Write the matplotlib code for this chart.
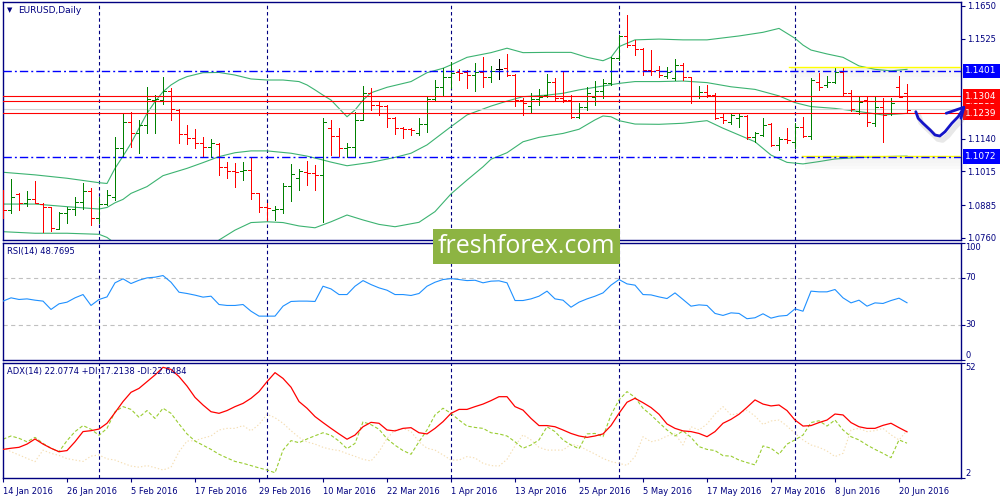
import numpy as np
import pandas as pd
import matplotlib
matplotlib.use("Agg")
import matplotlib.pyplot as plt
from matplotlib.patches import Rectangle
from matplotlib.transforms import blended_transform_factory

plt.rcParams['font.family'] = ['DejaVu Sans']
plt.rcParams['lines.scale_dashes'] = False

NAVY = '#000080'
UP = '#008000'
DOWN = '#ff0000'

# daily bars, EURUSD 14 Jan 2016 .. 21 Jun 2016
dates = pd.bdate_range('2016-01-14', periods=114)

open_ = [1.0906, 1.0867, 1.0927, 1.0893, 1.0908, 1.0890, 1.0877, 1.0793, 1.0854, 1.0872,
         1.0898, 1.0941, 1.0835, 1.0890, 1.0918, 1.1104, 1.1206, 1.1161, 1.1193, 1.1289,
         1.1289, 1.1325, 1.1251, 1.1158, 1.1142, 1.1126, 1.1110, 1.1120, 1.1033, 1.1017,
         1.1017, 1.1021, 1.0931, 1.0880, 1.0869, 1.0870, 1.0959, 1.0989, 1.1014, 1.1010,
         1.1001, 1.1181, 1.1151, 1.1104, 1.1110, 1.1213, 1.1315, 1.1270, 1.1268, 1.1219,
         1.1183, 1.1179, 1.1164, 1.1197, 1.1292, 1.1338, 1.1379, 1.1398, 1.1398, 1.1385,
         1.1398, 1.1376, 1.1407, 1.1411, 1.1385, 1.1289, 1.1266, 1.1292, 1.1308, 1.1360,
         1.1298, 1.1289, 1.1223, 1.1264, 1.1302, 1.1325, 1.1353, 1.1449, 1.1535, 1.1500,
         1.1484, 1.1404, 1.1404, 1.1381, 1.1372, 1.1424, 1.1376, 1.1305, 1.1321, 1.1308,
         1.1223, 1.1206, 1.1219, 1.1228, 1.1146, 1.1155, 1.1197, 1.1117, 1.1138, 1.1129,
         1.1187, 1.1151, 1.1360, 1.1347, 1.1360, 1.1398, 1.1315, 1.1248, 1.1289, 1.1200,
         1.1261, 1.1238, 1.1338, 1.1317]
high = [1.0944, 1.0986, 1.0931, 1.0940, 1.0978, 1.0893, 1.0880, 1.0859, 1.0880, 1.0918,
        1.0972, 1.0950, 1.0918, 1.0944, 1.1149, 1.1238, 1.1244, 1.1213, 1.1338, 1.1308,
        1.1376, 1.1334, 1.1253, 1.1193, 1.1178, 1.1149, 1.1138, 1.1123, 1.1053, 1.1046,
        1.1050, 1.1072, 1.0933, 1.0895, 1.0882, 1.0972, 1.1044, 1.1023, 1.1056, 1.1040,
        1.1219, 1.1213, 1.1181, 1.1123, 1.1244, 1.1343, 1.1334, 1.1283, 1.1270, 1.1223,
        1.1187, 1.1183, 1.1222, 1.1302, 1.1366, 1.1413, 1.1436, 1.1407, 1.1404, 1.1433,
        1.1453, 1.1420, 1.1445, 1.1466, 1.1389, 1.1296, 1.1315, 1.1330, 1.1388, 1.1372,
        1.1401, 1.1308, 1.1276, 1.1338, 1.1363, 1.1370, 1.1456, 1.1538, 1.1615, 1.1520,
        1.1488, 1.1481, 1.1421, 1.1417, 1.1445, 1.1430, 1.1379, 1.1343, 1.1347, 1.1315,
        1.1236, 1.1238, 1.1238, 1.1230, 1.1168, 1.1219, 1.1200, 1.1149, 1.1181, 1.1200,
        1.1225, 1.1372, 1.1392, 1.1381, 1.1411, 1.1417, 1.1328, 1.1302, 1.1302, 1.1302,
        1.1298, 1.1296, 1.1381, 1.1351]
low = [1.0835, 1.0854, 1.0867, 1.0882, 1.0893, 1.0781, 1.0788, 1.0793, 1.0818, 1.0848,
       1.0870, 1.0810, 1.0816, 1.0888, 1.0906, 1.1072, 1.1110, 1.1085, 1.1161, 1.1161,
       1.1273, 1.1213, 1.1123, 1.1120, 1.1104, 1.1072, 1.1072, 1.1002, 1.0989, 1.0957,
       1.0982, 1.0909, 1.0861, 1.0829, 1.0829, 1.0854, 1.0902, 1.0944, 1.0963, 1.0944,
       1.0822, 1.1078, 1.1075, 1.1072, 1.1072, 1.1213, 1.1251, 1.1232, 1.1187, 1.1159,
       1.1142, 1.1155, 1.1155, 1.1168, 1.1289, 1.1305, 1.1334, 1.1366, 1.1334, 1.1325,
       1.1338, 1.1360, 1.1370, 1.1383, 1.1268, 1.1232, 1.1245, 1.1270, 1.1302, 1.1289,
       1.1283, 1.1219, 1.1219, 1.1251, 1.1270, 1.1296, 1.1347, 1.1443, 1.1494, 1.1462,
       1.1385, 1.1385, 1.1376, 1.1372, 1.1366, 1.1366, 1.1279, 1.1296, 1.1302, 1.1215,
       1.1200, 1.1197, 1.1187, 1.1138, 1.1129, 1.1151, 1.1113, 1.1097, 1.1123, 1.1106,
       1.1149, 1.1138, 1.1328, 1.1338, 1.1353, 1.1305, 1.1248, 1.1236, 1.1190, 1.1190,
       1.1129, 1.1232, 1.1299, 1.1245]
close_ = [1.0867, 1.0918, 1.0893, 1.0908, 1.0895, 1.0877, 1.0797, 1.0854, 1.0872, 1.0898,
          1.0941, 1.0835, 1.0890, 1.0925, 1.1104, 1.1206, 1.1161, 1.1193, 1.1292, 1.1292,
          1.1325, 1.1255, 1.1158, 1.1142, 1.1126, 1.1110, 1.1126, 1.1033, 1.1017, 1.1014,
          1.1021, 1.0931, 1.0880, 1.0874, 1.0871, 1.0959, 1.1005, 1.1018, 1.1010, 1.1001,
          1.1206, 1.1151, 1.1104, 1.1110, 1.1213, 1.1315, 1.1270, 1.1268, 1.1219, 1.1181,
          1.1177, 1.1174, 1.1197, 1.1292, 1.1338, 1.1379, 1.1394, 1.1392, 1.1385, 1.1398,
          1.1376, 1.1402, 1.1407, 1.1385, 1.1289, 1.1276, 1.1292, 1.1302, 1.1360, 1.1296,
          1.1289, 1.1223, 1.1264, 1.1317, 1.1325, 1.1353, 1.1449, 1.1535, 1.1500, 1.1484,
          1.1404, 1.1402, 1.1385, 1.1398, 1.1424, 1.1379, 1.1305, 1.1321, 1.1308, 1.1219,
          1.1213, 1.1232, 1.1228, 1.1149, 1.1161, 1.1193, 1.1117, 1.1138, 1.1136, 1.1187,
          1.1151, 1.1366, 1.1338, 1.1360, 1.1398, 1.1315, 1.1255, 1.1283, 1.1206, 1.1261,
          1.1232, 1.1276, 1.1302, 1.1251]

# Bollinger bands (at these bars)
bb_up_idx = [0, 4, 8, 12, 13, 14, 15, 16, 17, 18, 19, 20, 21, 22, 23, 25, 27, 29, 31, 33,
             35, 37, 38, 39, 40, 41, 42, 43, 44, 45, 46, 48, 51, 53, 55, 56, 58, 61, 63, 65,
             68, 71, 73, 75, 76, 77, 79, 82, 85, 88, 92, 95, 97, 99, 100, 101, 103, 105, 107, 109,
             111, 113]
bb_up = [1.1012, 1.1002, 1.0989, 1.0972, 1.0969, 1.1027, 1.1074, 1.1123, 1.1181, 1.1238,
         1.1283, 1.1321, 1.1347, 1.1366, 1.1379, 1.1394, 1.1395, 1.1385, 1.1370, 1.1366,
         1.1366, 1.1360, 1.1347, 1.1328, 1.1308, 1.1289, 1.1257, 1.1225, 1.1251, 1.1289,
         1.1317, 1.1338, 1.1360, 1.1394, 1.1411, 1.1424, 1.1453, 1.1471, 1.1488, 1.1471,
         1.1472, 1.1472, 1.1453, 1.1440, 1.1453, 1.1494, 1.1520, 1.1523, 1.1520, 1.1520,
         1.1535, 1.1549, 1.1564, 1.1526, 1.1500, 1.1481, 1.1466, 1.1453, 1.1420, 1.1407,
         1.1401, 1.1407]
bb_mid_idx = [0, 4, 8, 12, 13, 14, 15, 16, 18, 20, 23, 25, 27, 29, 31, 33, 36, 38, 40, 41,
              43, 46, 49, 51, 53, 56, 58, 61, 63, 65, 68, 70, 72, 74, 77, 79, 82, 85, 88, 91,
              94, 97, 99, 101, 104, 107, 110, 113]
bb_mid = [1.0890, 1.0890, 1.0880, 1.0871, 1.0877, 1.0895, 1.0908, 1.0931, 1.0957, 1.0999,
          1.1027, 1.1049, 1.1072, 1.1087, 1.1094, 1.1094, 1.1085, 1.1074, 1.1059, 1.1051,
          1.1037, 1.1050, 1.1069, 1.1085, 1.1117, 1.1187, 1.1232, 1.1266, 1.1285, 1.1302,
          1.1308, 1.1315, 1.1328, 1.1338, 1.1353, 1.1360, 1.1360, 1.1362, 1.1356, 1.1340,
          1.1330, 1.1305, 1.1279, 1.1264, 1.1257, 1.1245, 1.1232, 1.1238]
bb_low_idx = [0, 4, 8, 12, 13, 14, 16, 20, 24, 26, 27, 29, 31, 33, 35, 37, 39, 41, 43, 45,
              47, 49, 52, 54, 56, 58, 60, 61, 63, 65, 67, 70, 72, 74, 75, 76, 77, 79, 82, 85,
              88, 90, 92, 94, 96, 98, 100, 102, 104, 107, 110, 113]
bb_low = [1.0784, 1.0778, 1.0778, 1.0774, 1.0762, 1.0739, 1.0701, 1.0663, 1.0675, 1.0720,
          1.0752, 1.0790, 1.0819, 1.0822, 1.0819, 1.0806, 1.0799, 1.0822, 1.0848, 1.0829,
          1.0812, 1.0803, 1.0820, 1.0861, 1.0929, 1.0982, 1.1033, 1.1062, 1.1087, 1.1129,
          1.1146, 1.1161, 1.1177, 1.1213, 1.1228, 1.1225, 1.1210, 1.1197, 1.1196, 1.1200,
          1.1210, 1.1181, 1.1155, 1.1129, 1.1078, 1.1050, 1.1044, 1.1053, 1.1063, 1.1069,
          1.1072, 1.1074]

rsi = [50.2, 53.0, 51.6, 52.1, 51.0, 50.2, 43.1, 47.9, 49.3, 53.0,
       55.8, 46.5, 51.6, 53.8, 65.8, 69.2, 65.2, 68.0, 70.0, 70.6,
       72.0, 66.3, 57.8, 56.7, 55.3, 53.6, 54.4, 47.3, 46.5, 46.5,
       47.3, 41.6, 37.4, 37.4, 37.4, 45.9, 49.9, 50.2, 50.2, 49.9,
       62.9, 60.6, 55.8, 55.8, 62.9, 67.7, 64.3, 61.5, 59.5, 55.8,
       55.8, 55.0, 56.7, 62.9, 66.3, 68.6, 69.4, 68.6, 67.7, 68.0,
       65.8, 67.2, 67.5, 65.8, 50.7, 50.7, 52.1, 54.4, 58.7, 52.1,
       51.0, 45.0, 49.3, 52.1, 54.4, 57.2, 63.8, 68.6, 64.9, 63.8,
       55.8, 55.5, 53.8, 52.4, 57.2, 51.6, 45.9, 47.0, 46.5, 39.7,
       38.0, 40.2, 39.7, 35.2, 36.0, 39.4, 35.7, 37.4, 38.0, 43.6,
       41.6, 58.7, 58.1, 58.1, 60.1, 53.0, 48.7, 51.0, 45.9, 48.7,
       48.2, 50.7, 52.7, 48.8]

adx = [14.5, 15.0, 15.4, 16.8, 19.0, 16.8, 15.0, 13.5, 14.0, 17.8,
       22.2, 22.6, 23.3, 25.8, 30.4, 35.2, 39.2, 40.9, 43.8, 46.7,
       50.0, 49.1, 46.0, 41.9, 37.0, 33.7, 30.8, 30.1, 31.3, 33.0,
       34.4, 36.6, 39.5, 43.8, 47.7, 45.2, 41.4, 35.2, 32.3, 28.7,
       26.1, 23.6, 21.2, 18.9, 20.7, 24.3, 26.2, 25.8, 22.9, 22.5,
       23.6, 23.9, 21.7, 21.2, 23.6, 26.5, 30.1, 31.8, 31.8, 33.0,
       34.1, 35.6, 37.3, 37.3, 33.0, 31.5, 27.9, 24.8, 24.8, 24.3,
       22.9, 21.4, 20.3, 19.7, 20.3, 21.2, 24.8, 30.1, 34.9, 36.6,
       34.7, 32.6, 29.7, 25.5, 23.6, 22.5, 22.2, 21.4, 20.0, 22.2,
       25.8, 27.5, 29.7, 32.7, 35.9, 34.1, 33.3, 33.7, 31.3, 27.2,
       24.6, 24.8, 26.1, 27.2, 29.8, 29.4, 26.1, 24.3, 23.6, 23.6,
       24.9, 25.8, 23.9, 22.1]
plus_di = [18.9, 20.3, 19.3, 17.8, 19.7, 17.1, 15.0, 13.5, 18.3, 22.2,
           24.8, 23.2, 20.6, 23.6, 30.8, 33.0, 31.8, 28.4, 31.3, 27.9,
           32.3, 30.1, 25.5, 21.2, 18.1, 16.3, 14.5, 12.4, 10.8, 9.3,
           8.5, 7.5, 6.5, 5.6, 4.4, 14.2, 18.3, 17.4, 19.0, 20.4,
           21.7, 20.6, 18.1, 14.8, 17.1, 26.4, 25.2, 23.2, 19.1, 16.3,
           14.0, 12.4, 17.8, 22.9, 29.4, 32.3, 30.1, 27.2, 24.6, 24.0,
           23.6, 21.7, 21.2, 20.3, 17.8, 15.0, 16.4, 18.6, 24.3, 22.2,
           18.6, 16.4, 14.8, 21.2, 21.4, 20.0, 29.4, 35.9, 39.5, 37.0,
           32.3, 29.4, 26.1, 22.9, 20.3, 22.5, 19.7, 15.7, 14.5, 14.0,
           11.8, 11.6, 9.9, 8.8, 7.8, 16.0, 15.0, 12.4, 16.8, 18.6,
           20.7, 26.1, 26.9, 24.6, 27.2, 22.9, 20.0, 18.6, 16.4, 14.5,
           12.8, 10.9, 18.6, 17.2]
minus_di = [15.4, 13.5, 12.1, 10.6, 9.2, 14.2, 12.8, 11.9, 10.5, 9.9,
            9.3, 11.6, 12.1, 10.4, 9.9, 8.5, 7.3, 6.8, 7.5, 6.6,
            5.6, 6.8, 13.5, 18.1, 18.3, 19.4, 20.3, 22.9, 23.6, 23.6,
            24.8, 22.5, 25.3, 29.7, 28.2, 25.8, 22.6, 19.7, 17.7, 16.8,
            15.4, 14.5, 14.0, 12.7, 11.5, 10.2, 9.5, 13.5, 19.3, 22.9,
            23.6, 22.2, 17.8, 15.0, 14.2, 12.1, 9.9, 9.9, 11.4, 10.8,
            8.5, 7.5, 7.3, 10.2, 16.0, 20.8, 18.6, 15.4, 14.2, 14.2,
            14.2, 16.7, 16.0, 14.2, 12.5, 10.6, 9.2, 8.5, 7.6, 11.4,
            20.0, 17.8, 18.6, 20.3, 21.2, 16.4, 24.3, 22.9, 25.5, 29.8,
            33.0, 29.4, 30.1, 31.5, 28.9, 25.3, 26.8, 27.2, 24.6, 21.4,
            18.6, 16.4, 15.4, 13.8, 11.4, 12.8, 22.9, 23.6, 22.2, 22.6,
            23.6, 20.8, 18.6, 22.6]

# chart objects
blue_levels = [1.1401, 1.1072]
red_levels = [1.1304, 1.1285, 1.1239]
bid_level = 1.1254
yellow_levels = [(98.25, 1.1415), (99.9, 1.1076)]
price_ticks = [1.1650, 1.1525, 1.1140, 1.1015, 1.0885, 1.0760]
# hand-drawn arrow (bar, price)
arrow_path = [(114.1, 1.12444), (114.4, 1.12191), (115.0, 1.11999), (115.9, 1.11742),
              (116.5, 1.11550), (117.1, 1.11511), (117.75, 1.11676), (118.6, 1.11999),
              (119.4, 1.12252), (120.1, 1.12586)]
arrow_head = [[(117.9, 1.12383), (120.1, 1.12613)], [(119.75, 1.12191), (120.1, 1.12613)]]

x = np.arange(len(close_))
o, h, l, c = (np.asarray(v) for v in (open_, high, low, close_))
month_starts = [i for i in range(1, len(dates)) if dates[i].month != dates[i - 1].month]

fig = plt.figure(figsize=(10, 5), dpi=100)
ax_p = fig.add_axes([0.0027, 0.52, 0.9583, 0.476])
ax_r = fig.add_axes([0.0027, 0.28, 0.9583, 0.2346])
ax_a = fig.add_axes([0.0027, 0.0434, 0.9583, 0.2312])

for ax in (ax_p, ax_r, ax_a):
    ax.set_xlim(-0.04, 119.75)
    for s in ax.spines.values():
        s.set_color(NAVY)
        s.set_linewidth(1.0)
    ax.yaxis.tick_right()
    ax.tick_params(axis='y', colors=NAVY, labelcolor=NAVY, labelsize=6, length=3, width=0.8, pad=1.5)
    ax.set_xticks([])
    for i in month_starts:
        ax.axvline(i, color=NAVY, lw=0.8, dashes=(2.5, 2), zorder=1)

# ---- price panel
px = 1 / 2606.0  # one pixel in price
ax_p.set_ylim(1.07521, 1.16653)
for idx, vals in ((bb_up_idx, bb_up), (bb_mid_idx, bb_mid), (bb_low_idx, bb_low)):
    ax_p.plot(idx, vals, color='#3CB371', lw=0.8, zorder=2)

cols = [UP if cc > oo else DOWN if cc < oo else 'black' for oo, cc in zip(o, c)]
ax_p.vlines(x, l, h, colors=cols, lw=0.55, antialiased=False, zorder=3)
ax_p.hlines(o, x - 0.35, x, colors=cols, lw=0.55, antialiased=False, zorder=3)
ax_p.hlines(c, x, x + 0.35, colors=cols, lw=0.55, antialiased=False, zorder=3)

ax_p.axhline(bid_level, color='#D3D3D3', lw=0.8, zorder=2)
for lv in red_levels:
    ax_p.axhline(lv, color='red', lw=0.8, zorder=4)
for x0, lv in yellow_levels:
    for k, a in enumerate([0.10, 0.08, 0.06, 0.04]):
        ax_p.fill_between([x0 + 0.3, 120.5], lv - (1 + 3 * k) * px, lv - (4 + 3 * k) * px,
                          color='gray', alpha=a, lw=0, zorder=2, clip_on=False)
    ax_p.plot([x0, 119.75], [lv, lv], color='#FFFF00', lw=1.0, zorder=4)
for lv in blue_levels:
    ax_p.axhline(lv, color='#0000FF', lw=1.0, dashes=(6, 2.2, 1.4, 2.2), zorder=5)

ax_p.set_yticks(price_ticks)
ax_p.set_yticklabels([f'{v:.4f}' for v in price_ticks])

tr = blended_transform_factory(ax_p.transAxes, ax_p.transData)
for lv, fc in [(1.1285, 'red'), (1.1401, '#0000FF'), (1.1304, 'red'), (1.1239, 'red'), (1.1072, '#0000FF')]:
    ax_p.text(1.0045, lv, f'{lv:.4f}', transform=tr, ha='left', va='center', color='white',
              size=6.5, zorder=6, clip_on=False,
              bbox=dict(boxstyle='square,pad=0.3', fc=fc, ec='none'))

ax_x, ax_y = zip(*arrow_path)
ax_p.plot(np.array(ax_x) + 0.35, np.array(ax_y) - 4 * px, color='gray', lw=4, alpha=0.18,
          solid_capstyle='round', zorder=6, clip_on=False)
ax_p.plot(ax_x, ax_y, color='#1414C8', lw=2.0, solid_capstyle='round', solid_joinstyle='round',
          zorder=7, clip_on=False)
for seg in arrow_head:
    sx, sy = zip(*seg)
    ax_p.plot(sx, sy, color='#1414C8', lw=2.0, solid_capstyle='round', zorder=7, clip_on=False)

# ---- RSI panel
ax_r.set_ylim(0, 100)
ax_r.axhline(70, color='#C0C0C0', lw=0.8, dashes=(3, 2.5), zorder=1)
ax_r.axhline(30, color='#C0C0C0', lw=0.8, dashes=(3, 2.5), zorder=1)
ax_r.plot(x, rsi, color='#1E90FF', lw=0.8, zorder=3)
ax_r.set_yticks([100, 70, 30, 0])
ax_r.set_yticklabels([])
trr = blended_transform_factory(ax_r.transAxes, ax_r.transData)
for v, va in [(100, 'top'), (70, 'center'), (30, 'center'), (0, 'bottom')]:
    ax_r.text(1.0045, v, str(v), transform=trr, ha='left', va=va, color=NAVY, size=6, clip_on=False)

# ---- ADX panel
ax_a.set_ylim(2, 52)
ax_a.plot(x, minus_di, color='#F5DEB3', lw=0.8, dashes=(1, 1.5), zorder=2)
ax_a.plot(x, plus_di, color='#9ACD32', lw=0.8, dashes=(2.5, 1.5), zorder=2)
ax_a.plot(x, adx, color='red', lw=0.9, zorder=3)
ax_a.set_yticks([52, 2])
ax_a.set_yticklabels([])
tra = blended_transform_factory(ax_a.transAxes, ax_a.transData)
for v, va in [(52, 'top'), (2, 'bottom')]:
    ax_a.text(1.0045, v, str(v), transform=tra, ha='left', va=va, color=NAVY, size=6, clip_on=False)

xt = x[::8]
ax_a.set_xticks(xt)
ax_a.set_xticklabels([f'{dates[i].day} {dates[i]:%b %Y}' for i in xt], ha='left')
ax_a.tick_params(axis='x', colors=NAVY, labelcolor=NAVY, labelsize=6, length=3, width=0.8, pad=3)

# ---- titles
fig.text(0.0065, 0.9795, '\u25bc', color=NAVY, size=5, va='center')
fig.text(0.018, 0.979, 'EURUSD,Daily', color=NAVY, size=6.5, va='center')
fig.text(0.007, 0.4965, 'RSI(14) 48.7695', color=NAVY, size=6, va='center')
fig.text(0.007, 0.2565, 'ADX(14) 22.0774 +DI:17.2138 -DI:22.6484', color=NAVY, size=6, va='center')

# ---- watermark
fig.patches.append(Rectangle((0.433, 1 - 263.5 / 500), 0.187, 34.5 / 500, transform=fig.transFigure,
                             fc='#8DB443', ec='none', zorder=20))
fig.text(0.5265, 1 - 246.5 / 500, 'freshforex.com', color='white', size=18, family='Open Sans',
         ha='center', va='center', zorder=21)

fig.savefig('out.png', dpi=100)
